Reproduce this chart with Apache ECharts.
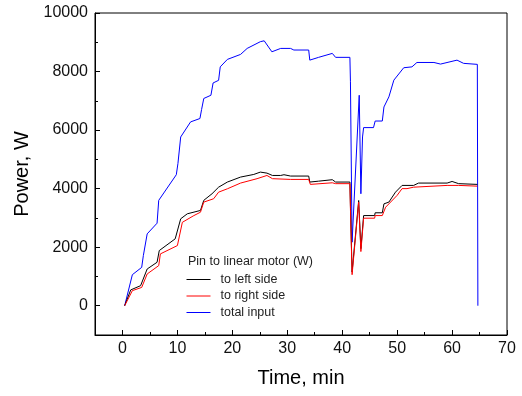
<!DOCTYPE html>
<html><head><meta charset="utf-8">
<script src="https://cdn.jsdelivr.net/npm/echarts@6/dist/echarts.min.js"></script>
<style>html,body{margin:0;padding:0;background:#fff}#c{width:522px;height:396px}</style>
</head><body><div id="c"></div>
<script>
const seriesNames = ['to left side', 'to right side', 'total input'];
const legendTitle = 'Pin to linear motor (W)';
const xTickLabels = [0, 10, 20, 30, 40, 50, 60, 70];
const xMinorTicks = [5, 15, 25, 35, 45, 55, 65];
const yTickLabels = [0, 2000, 4000, 6000, 8000, 10000];
const yMinorTicks = [1000, 3000, 5000, 7000, 9000];

const leftTime = [0.4, 1.5, 1.8, 3.3, 4.5, 6.3, 6.7, 9.6, 10.6, 11.8, 14.2, 14.8, 16.3, 17.5, 19.1, 21.5, 23.9, 25.1, 26.3, 27.3, 28.8, 29.4, 30.6, 33.9, 34.1, 35.7, 38.2, 38.8, 41.4, 41.5, 41.8, 43.0, 43.4, 43.9, 45.9, 46.0, 47.3, 47.6, 48.5, 49.7, 50.9, 53.0, 53.9, 59.1, 60.0, 61.2, 64.6];
const leftPower = [0, 540, 570, 685, 1255, 1485, 1885, 2285, 2970, 3140, 3255, 3600, 3825, 4050, 4225, 4395, 4485, 4565, 4530, 4450, 4450, 4475, 4430, 4430, 4225, 4255, 4305, 4225, 4225, 3400, 1150, 3595, 1950, 3080, 3080, 3175, 3175, 3480, 3540, 3880, 4110, 4110, 4190, 4190, 4245, 4170, 4145];

const rightTime = [0.4, 1.8, 3.5, 4.5, 6.6, 6.9, 10.0, 10.9, 13.0, 14.2, 14.8, 16.6, 17.5, 19.1, 21.5, 24.5, 26.3, 27.3, 30.6, 33.9, 34.2, 38.2, 38.8, 41.4, 41.5, 41.8, 43.0, 43.4, 43.9, 45.9, 46.0, 47.3, 47.9, 50.0, 50.9, 51.8, 53.0, 59.1, 61.2, 64.6];
const rightPower = [0, 515, 625, 1085, 1370, 1770, 2055, 2850, 3080, 3195, 3540, 3655, 3880, 3995, 4190, 4340, 4450, 4340, 4315, 4315, 4145, 4200, 4170, 4170, 3300, 1060, 3540, 1850, 2990, 2990, 3080, 3080, 3365, 3770, 4000, 4000, 4050, 4110, 4110, 4085];

const totalTime = [0.4, 1.8, 3.5, 3.8, 4.5, 6.3, 6.6, 9.8, 10.1, 10.6, 12.4, 14.1, 14.4, 14.8, 16.1, 16.5, 17.5, 17.8, 19.1, 21.5, 22.7, 25.1, 25.8, 27.2, 28.8, 30.6, 31.2, 33.9, 34.1, 35.7, 38.2, 38.8, 41.4, 41.5, 41.8, 43.1, 43.4, 43.7, 43.9, 45.7, 46.0, 47.3, 47.6, 48.5, 49.4, 51.2, 52.7, 53.6, 56.7, 57.9, 60.9, 62.1, 64.6, 64.7];
const totalPower = [0, 1060, 1310, 1710, 2455, 2820, 3600, 4475, 4860, 5765, 6280, 6395, 6700, 7080, 7190, 7610, 7700, 8160, 8415, 8585, 8790, 9020, 9050, 8675, 8790, 8790, 8735, 8735, 8390, 8485, 8620, 8485, 8485, 7650, 2170, 7190, 3825, 5765, 6085, 6085, 6310, 6310, 6790, 7135, 7705, 8130, 8160, 8310, 8310, 8255, 8390, 8280, 8245, 0];

const zip = (a, b) => a.map((v, i) => [v, b[i]]);
const chart = echarts.init(document.getElementById('c'), null, {renderer: 'canvas'});
const F = '"Liberation Sans", Arial, sans-serif';
const lineStyleAxis = {color: '#000', width: 1};
const minorAxisX = {
  type: 'value', min: -5, max: 70, position: 'bottom',
  axisLine: {show: false, onZero: false},
  axisTick: {show: true, inside: true, length: 3, lineStyle: lineStyleAxis, customValues: xMinorTicks},
  axisLabel: {show: false}, splitLine: {show: false}
};
const minorAxisY = {
  type: 'value', min: -1000, max: 10000, position: 'left',
  axisLine: {show: false, onZero: false},
  axisTick: {show: true, inside: true, length: 3, lineStyle: lineStyleAxis, customValues: yMinorTicks},
  axisLabel: {show: false}, splitLine: {show: false}
};
chart.setOption({
  animation: false,
  backgroundColor: '#fff',
  grid: {left: 95, top: 13, right: 15, bottom: 61, show: true, borderColor: '#000', borderWidth: 1, backgroundColor: 'transparent'},
  legend: {
    data: seriesNames, orient: 'vertical', left: 181, top: 268,
    itemWidth: 24, itemHeight: 14, itemGap: 3.5,
    itemStyle: {opacity: 0},
    lineStyle: {width: 1},
    textStyle: {fontFamily: F, fontSize: 12.5, color: '#222', padding: [0, 0, 0, 5]}
  },
  graphic: [{type: 'text', left: 188, top: 255, style: {text: legendTitle, font: '12.5px "Liberation Sans", Arial, sans-serif', fill: '#222'}}],
  xAxis: [{
    type: 'value', min: -5, max: 70, interval: 10, position: 'bottom',
    name: 'Time, min', nameLocation: 'middle', nameGap: 33,
    nameTextStyle: {fontFamily: F, fontSize: 20, color: '#000'},
    axisLine: {show: true, onZero: false, lineStyle: lineStyleAxis},
    axisTick: {show: true, inside: true, length: 5, lineStyle: lineStyleAxis,
      customValues: xTickLabels},
    axisLabel: {fontFamily: F, fontSize: 16, color: '#111', margin: 6,
      customValues: xTickLabels, formatter: v => String(v)},
    splitLine: {show: false}
  }, minorAxisX],
  yAxis: [{
    type: 'value', min: -1000, max: 10000, interval: 1000, position: 'left',
    name: 'Power, W', nameLocation: 'middle', nameGap: 62,
    nameTextStyle: {fontFamily: F, fontSize: 20, color: '#000'},
    axisLine: {show: true, onZero: false, lineStyle: lineStyleAxis},
    axisTick: {show: true, inside: true, length: 5, lineStyle: lineStyleAxis,
      customValues: yTickLabels},
    axisLabel: {fontFamily: F, fontSize: 16, color: '#111', margin: 7,
      customValues: yTickLabels, formatter: v => String(v)},
    splitLine: {show: false}
  }, minorAxisY],
  series: [
    {name: 'total input', type: 'line', data: zip(totalTime, totalPower), symbol: 'none',
      lineStyle: {color: '#0000ff', width: 1}, itemStyle: {color: '#0000ff'}, z: 2},
    {name: 'to left side', type: 'line', data: zip(leftTime, leftPower), symbol: 'none',
      lineStyle: {color: '#000000', width: 1}, itemStyle: {color: '#000000'}, z: 3},
    {name: 'to right side', type: 'line', data: zip(rightTime, rightPower), symbol: 'none',
      lineStyle: {color: '#ff0000', width: 1}, itemStyle: {color: '#ff0000'}, z: 4}
  ]
});
</script></body></html>
